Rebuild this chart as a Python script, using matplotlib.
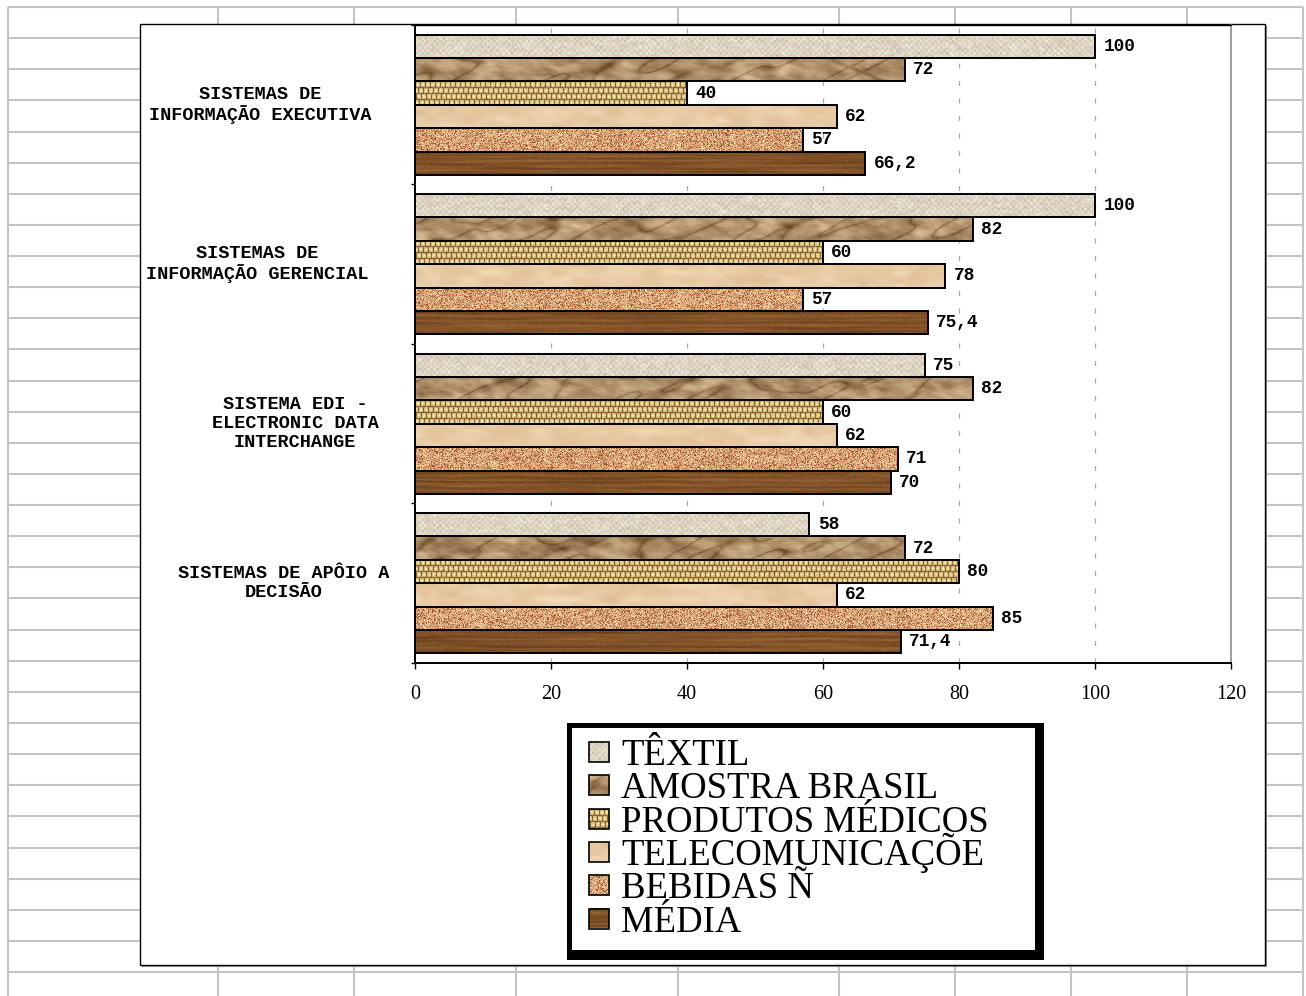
import numpy as np
import matplotlib
matplotlib.use("Agg")
import matplotlib.pyplot as plt
from matplotlib.patches import Rectangle
from matplotlib.transforms import blended_transform_factory

# ---------------------------------------------------------------- data
categories = [
    "SISTEMAS DE\nINFORMAÇÃO EXECUTIVA",
    "SISTEMAS DE\nINFORMAÇÃO GERENCIAL",
    "SISTEMA EDI -\nELECTRONIC DATA\nINTERCHANGE",
    "SISTEMAS DE APÔIO A\nDECISÃO",
]
series_names = ["TÊXTIL", "AMOSTRA BRASIL", "PRODUTOS MÉDICOS",
                "TELECOMUNICAÇÕE", "BEBIDAS Ñ", "MÉDIA"]
textil = [100, 100, 75, 58]
amostra_brasil = [72, 82, 82, 72]
produtos_medicos = [40, 60, 60, 80]
telecomunicacoes = [62, 78, 62, 62]
bebidas = [57, 57, 71, 85]
media = [66.2, 75.4, 70, 71.4]
x_ticks = [0, 20, 40, 60, 80, 100, 120]

series_values = [textil, amostra_brasil, produtos_medicos,
                 telecomunicacoes, bebidas, media]

# ---------------------------------------------------------------- textures
def _hash(ix, iy, seed):
    v = np.sin(ix * 12.9898 + iy * 78.233 + seed * 17.371) * 43758.5453
    return v - np.floor(v)


def _noise(u, v, seed):
    u0, v0 = np.floor(u), np.floor(v)
    fu, fv = u - u0, v - v0
    fu = fu * fu * (3 - 2 * fu)
    fv = fv * fv * (3 - 2 * fv)
    a = _hash(u0, v0, seed)
    b = _hash(u0 + 1, v0, seed)
    c = _hash(u0, v0 + 1, seed)
    d = _hash(u0 + 1, v0 + 1, seed)
    return (a * (1 - fu) + b * fu) * (1 - fv) + (c * (1 - fu) + d * fu) * fv


def _fbm(u, v, seed, octaves=3):
    total, amp, norm = 0.0, 1.0, 0.0
    for o in range(octaves):
        total = total + amp * _noise(u * 2 ** o, v * 2 ** o, seed + 7 * o)
        norm += amp
        amp *= 0.5
    return total / norm


def _ramp(t, c0, c1):
    t = np.clip(t, 0, 1)[..., None]
    c0 = np.array(c0, float) / 255
    c1 = np.array(c1, float) / 255
    return c0 + (c1 - c0) * t


def make_texture(kind, rows, cols, seed):
    yy, xx = np.mgrid[0:rows, 0:cols].astype(float)
    if kind == 0:      # linen
        fine = _hash(xx, np.floor(yy / 2), seed)
        weave = (np.floor(xx / 3) + np.floor(yy / 3)) % 2
        blotch = _fbm(xx / 6, yy / 3, seed + 1)
        t = 0.35 * fine + 0.2 * weave + 0.45 * blotch
        return _ramp(t, (192, 180, 158), (250, 245, 232))
    if kind == 1:      # crumpled paper
        n = _fbm((xx + 0.8 * yy) / 20, (yy - 0.3 * xx) / 8, seed, 4)
        crease = 1 - np.abs(2 * _noise((xx * 0.6 + yy * 1.2) / 14,
                                       (yy - xx * 0.4) / 30, seed + 3) - 1)
        t = 0.15 + 0.85 * n - 0.4 * crease ** 8
        return _ramp(t, (110, 76, 42), (232, 204, 164))
    if kind == 2:      # burlap
        cx = np.abs(np.sin(np.pi * (xx + 2 * np.floor(yy / 6)) / 5))
        cy = np.abs(np.sin(np.pi * yy / 6))
        t = 0.1 + 0.85 * (cx ** 0.5) * (cy ** 0.5) + 0.3 * (_hash(xx, yy, seed) - 0.5)
        return _ramp(t, (128, 88, 36), (250, 234, 172))
    if kind == 3:      # smooth suede
        n = _fbm(xx / 18, yy / 8, seed, 3)
        return _ramp(n, (220, 186, 142), (244, 220, 188))
    if kind == 4:      # speckled granite
        h = _hash(xx, yy, seed)
        base = _ramp(_fbm(xx / 6, yy / 3, seed + 2), (196, 136, 90), (236, 190, 140))
        dark = h < 0.2
        light = h > 0.8
        base[dark] = np.array([168, 88, 58]) / 255
        base[light] = np.array([246, 214, 170]) / 255
        return base
    # wood
    g = _fbm(xx / 80, yy / 2.2, seed, 4)
    streak = np.sin(yy * 1.3 + 3 * _noise(xx / 50, yy / 4, seed + 5))
    t = 0.6 * g + 0.2 * (streak * 0.5 + 0.5) + 0.2 * _hash(xx, yy, seed + 9)
    return _ramp(t, (88, 50, 20), (172, 116, 62))


# ---------------------------------------------------------------- figure
W, H = 1306, 996
fig = plt.figure(figsize=(W / 100, H / 100), dpi=100)
fig.patch.set_facecolor("white")

bg = fig.add_axes([0, 0, 1, 1], zorder=0)
bg.set_xlim(0, W)
bg.set_ylim(H, 0)
bg.axis("off")

# worksheet cell grid
grid_color = "#c4c4c4"
for k in range(32):
    y = 7 + 31.13 * k
    bg.plot([8, 1303], [y, y], color=grid_color, lw=1.5, solid_capstyle="butt", zorder=0)
for x in [8, 218, 354, 516, 678, 839, 955, 1071, 1187, 1303]:
    bg.plot([x, x], [7, H], color=grid_color, lw=1.5, solid_capstyle="butt", zorder=0)

# chart area
bg.add_patch(Rectangle((142, 26), 1125, 941, facecolor="#9a9a9a", edgecolor="none", zorder=1))
bg.add_patch(Rectangle((140, 24), 1125, 941, facecolor="white", edgecolor="black", lw=1.0, zorder=2))

# plot area
ax = fig.add_axes([415 / W, 1 - 663 / H, 816 / W, 638 / H], zorder=1)
ax.patch.set_facecolor("none")

n_series = len(series_values)
group_width = 0.88
bar_h = group_width / n_series
cat_pos = np.arange(len(categories))
tex_rows, tex_cols = 24, 820

for j, vals in enumerate(series_values):
    centers = cat_pos + (1 - group_width) / 2 + (j + 0.5) * bar_h
    bars = ax.barh(centers, vals, height=bar_h, facecolor="none",
                   edgecolor="black", lw=1.4, zorder=4)
    for i, patch in enumerate(bars.patches):
        tex = make_texture(j, tex_rows, tex_cols, seed=11 * j + 3 * i + 1)
        y0, y1 = patch.get_y(), patch.get_y() + patch.get_height()
        im = ax.imshow(tex, extent=[x_ticks[0], x_ticks[-1], y1, y0],
                       aspect="auto", interpolation="nearest", zorder=3)
        im.set_clip_path(patch)
    for v, c in zip(vals, centers):
        ax.annotate(f"{v:g}".replace(".", ","), xy=(v, c), xytext=(6, 0),
                    textcoords="offset points", ha="left", va="center",
                    family="Liberation Mono", weight="bold", fontsize=12.8,
                    zorder=5)

ax.set_xlim(x_ticks[0], x_ticks[-1])
ax.set_ylim(len(categories), 0)

# dashed vertical gridlines
for t in x_ticks[1:-1]:
    ax.axvline(t, color="#a8a8a8", lw=0.9, ls=(0, (4, 10)), zorder=1)

for side in ("left", "bottom"):
    ax.spines[side].set_color("black")
    ax.spines[side].set_linewidth(1.4)
ax.spines["top"].set_color("black")
ax.spines["top"].set_linewidth(1.0)
ax.spines["right"].set_color("#8c8c8c")
ax.spines["right"].set_linewidth(1.2)

ax.set_xticks(x_ticks)
ax.set_xticklabels([str(t) for t in x_ticks], family="Liberation Serif", fontsize=14.5)
ax.tick_params(axis="x", direction="out", length=4, width=1, pad=12)
ax.set_yticks(np.arange(len(categories) + 1))
ax.set_yticklabels([])
ax.tick_params(axis="y", direction="out", length=3, width=1)

# category labels
label_x = [260, 257, 295, 284]
tr = blended_transform_factory(bg.transData, ax.transData)
for i, cat in enumerate(categories):
    ax.text(label_x[i], i + 0.5, cat, transform=tr, ha="center", va="center",
            multialignment="center", family="Liberation Mono", weight="bold",
            fontsize=13.3, linespacing=1.15, clip_on=False)

# legend box with drop shadow
bg.add_patch(Rectangle((567, 723), 477, 237, facecolor="black", edgecolor="none", zorder=6))
bg.add_patch(Rectangle((572, 728), 463, 222, facecolor="white", edgecolor="none", zorder=7))
row_step = 33.3
for k, name in enumerate(series_names):
    top = 742 + row_step * k
    sw = make_texture(k, 20, 20, seed=11 * k + 50)
    bg.imshow(sw, extent=[589, 609, top + 20, top], aspect="auto",
              interpolation="nearest", zorder=8)
    bg.add_patch(Rectangle((589, top), 20, 20, facecolor="none",
                           edgecolor="black", lw=1.2, zorder=9))
    bg.text(621, 765 + row_step * k, name, ha="left", va="baseline",
            family="Liberation Serif", fontsize=26.5, zorder=9)

bg.set_xlim(0, W)
bg.set_ylim(H, 0)

fig.savefig("out.png", dpi=100)
